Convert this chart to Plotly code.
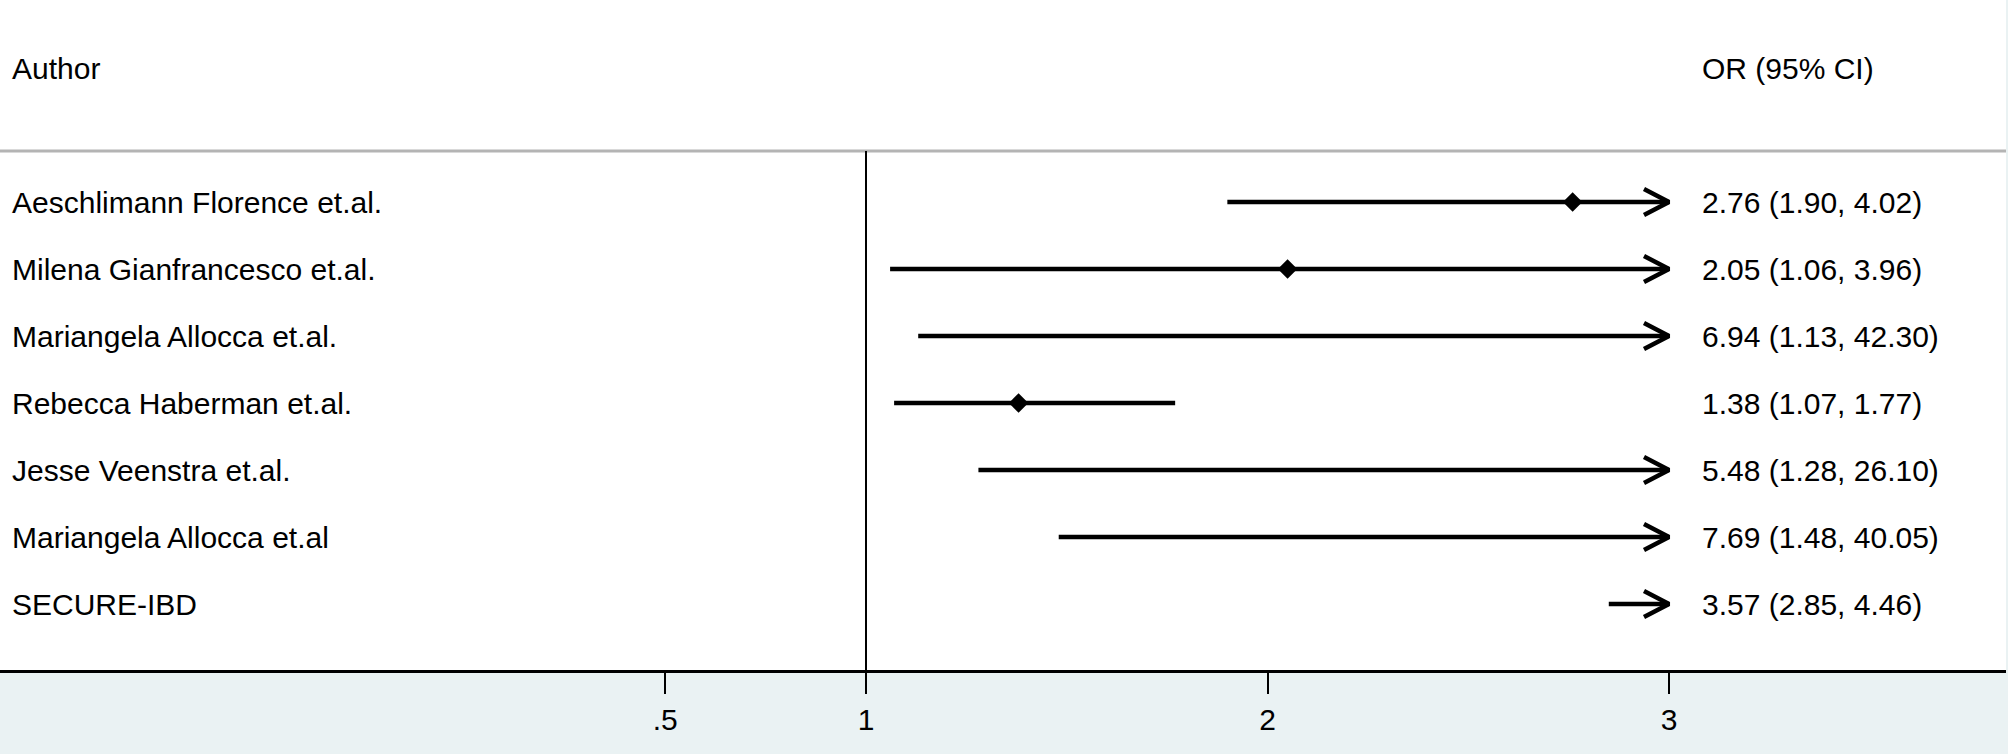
import plotly.graph_objects as go

# ---- data ----
authors = [
    "Aeschlimann Florence et.al.",
    "Milena Gianfrancesco et.al.",
    "Mariangela Allocca et.al.",
    "Rebecca Haberman et.al.",
    "Jesse Veenstra et.al.",
    "Mariangela Allocca et.al",
    "SECURE-IBD",
]
or_est = [2.76, 2.05, 6.94, 1.38, 5.48, 7.69, 3.57]
ci_low = [1.90, 1.06, 1.13, 1.07, 1.28, 1.48, 2.85]
ci_high = [4.02, 3.96, 42.30, 1.77, 26.10, 40.05, 4.46]
tick_vals = [0.5, 1, 2, 3]
tick_text = [".5", "1", "2", "3"]
null_value = 1
axis_max = 3
header_left = "Author"
header_right = "OR (95% CI)"

FONT = "Liberation Sans, Arial, sans-serif"
W, H = 2008, 754
ML, MR, MT, MB = 0, 2, 0, 84
plot_w = W - ML - MR
plot_h = H - MT - MB
PX_PER_UNIT = 401.5
X_ONE_PX = 866
x0 = 1 - X_ONE_PX / PX_PER_UNIT
x1 = 1 + (plot_w - X_ONE_PX) / PX_PER_UNIT
y_top, y_bot = -3.015, 6.985
px_per_row = plot_h / (y_bot - y_top)

# arrowhead geometry (pixels -> data units)
head_dx = 25 / PX_PER_UNIT
head_dy = 13 / px_per_row

rows = list(range(len(authors)))

fig = go.Figure()

# CI lines
for i in rows:
    hi = min(ci_high[i], axis_max)
    fig.add_trace(go.Scatter(
        x=[ci_low[i], hi], y=[i, i], mode="lines",
        line=dict(color="black", width=4.5), hoverinfo="skip", showlegend=False,
    ))

# open arrowheads for truncated CIs
ax_, ay_ = [], []
for i in rows:
    if ci_high[i] > axis_max:
        ax_ += [axis_max - head_dx, axis_max, axis_max - head_dx, None]
        ay_ += [i - head_dy, i, i + head_dy, None]
fig.add_trace(go.Scatter(
    x=ax_, y=ay_, mode="lines", line=dict(color="black", width=4.5),
    hoverinfo="skip", showlegend=False,
))

# point estimates (only inside visible range)
px_ = [or_est[i] for i in rows if or_est[i] <= axis_max]
py_ = [i for i in rows if or_est[i] <= axis_max]
fig.add_trace(go.Scatter(
    x=px_, y=py_, mode="markers",
    marker=dict(symbol="diamond", size=15, color="black", line=dict(width=0)),
    hoverinfo="skip", showlegend=False,
))

# labels
for i in rows:
    fig.add_annotation(x=0, xref="paper", y=i, yref="y", text=authors[i],
                       showarrow=False, xanchor="left", xshift=10,
                       font=dict(family=FONT, size=30, color="black"))
    fig.add_annotation(x=1700 / plot_w, xref="paper", y=i, yref="y",
                       text=f"{or_est[i]:.2f} ({ci_low[i]:.2f}, {ci_high[i]:.2f})",
                       showarrow=False, xanchor="left",
                       font=dict(family=FONT, size=30, color="black"))

fig.add_annotation(x=0, xref="paper", y=-2, yref="y", text=header_left,
                   showarrow=False, xanchor="left", xshift=10,
                   font=dict(family=FONT, size=30, color="black"))
fig.add_annotation(x=1700 / plot_w, xref="paper", y=-2, yref="y", text=header_right,
                   showarrow=False, xanchor="left",
                   font=dict(family=FONT, size=30, color="black"))

# header separator and null line
fig.add_shape(type="line", xref="paper", yref="y", x0=0, x1=1, y0=-0.76, y1=-0.76,
              line=dict(color="#b4b4b4", width=3))
fig.add_shape(type="line", xref="x", yref="y", x0=null_value, x1=null_value,
              y0=-0.76, y1=y_bot, line=dict(color="black", width=2))

fig.update_layout(
    width=W, height=H,
    margin=dict(l=ML, r=MR, t=MT, b=MB),
    paper_bgcolor="#EAF2F3", plot_bgcolor="white",
    font=dict(family=FONT, size=30, color="black"),
    xaxis=dict(range=[x0, x1], tickvals=tick_vals, ticktext=tick_text,
               showgrid=False, zeroline=False, showline=True, linecolor="black",
               linewidth=3, ticks="outside", ticklen=21, tickwidth=2,
               tickcolor="black", tickfont=dict(family=FONT, size=30, color="black"),
               fixedrange=True),
    yaxis=dict(range=[y_bot, y_top], visible=False, showgrid=False, zeroline=False,
               fixedrange=True),
    showlegend=False,
)

fig.write_html(
    "out.html",
    config={"displayModeBar": False},
    post_script="document.body.style.margin='0';document.body.style.padding='0';"
                "document.body.style.overflow='hidden';",
)
